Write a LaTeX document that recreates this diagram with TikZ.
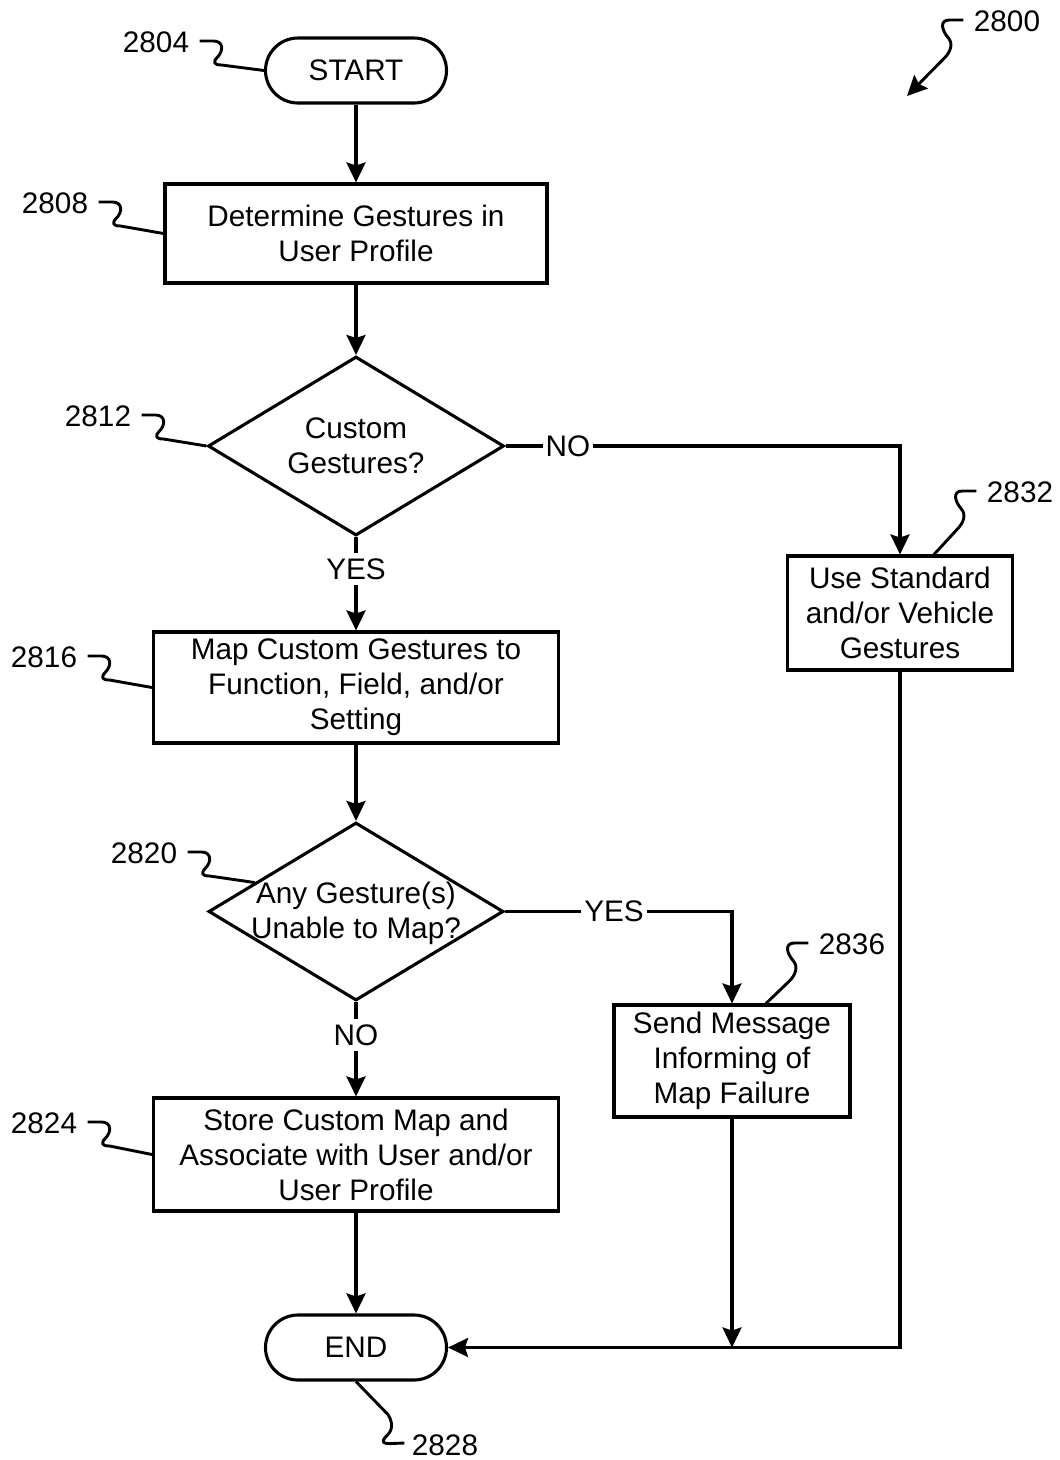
\documentclass[tikz,border=0pt]{standalone}
\usepackage{fontspec}
\setmainfont{Liberation Sans}
\usetikzlibrary{shapes.geometric,shapes.misc,arrows.meta,calc}
\newcommand{\leadL}[2]{\draw[lead] (#1) -- ($(#1)+(14,0)$) .. controls ($(#1)+(24,0)$) and ($(#1)+(24,10)$) .. ($(#1)+(18,16)$) .. controls ($(#1)+(13,21)$) and ($(#1)+(14,24)$) .. ($(#1)+(22,24)$) -- (#2);}
\newcommand{\leadR}[3][]{\draw[lead,#1] (#2) -- ($(#2)+(-14,0)$) .. controls ($(#2)+(-24,0)$) and ($(#2)+(-22,10)$) .. ($(#2)+(-15,18)$) .. controls ($(#2)+(-10,24)$) and ($(#2)+(-13,32)$) .. ($(#2)+(-19,38)$) -- (#3);}
\begin{document}
\begin{tikzpicture}[x=1pt,y=-1pt,
  line width=3.1pt,
  every node/.style={font=\fontsize{29.7}{35}\selectfont},
  box/.style={draw, rectangle, align=center, inner sep=0pt},
  term/.style={draw, rounded rectangle, minimum width=181pt, minimum height=65pt, inner sep=0pt},
  dia/.style={draw, diamond, inner sep=0pt, minimum width=296pt, minimum height=179pt},
  txt/.style={align=center, inner sep=0pt},
  lbl/.style={inner sep=0pt},
  flow/.style={-{Stealth[length=20pt,width=19pt,inset=3pt]}},
  lead/.style={line width=2.9pt, line join=round},
]
\useasboundingbox (0,0) rectangle (1060,1460);

% main nodes
\node[term] (start) at (356,70.5) {START};
\node[box, minimum width=382pt, minimum height=99pt] (b2808) at (356,233.5) {Determine Gestures in\\User Profile};
\node[dia] (q1) at (356,446) {};
\node[txt] (t1) at (356,446) {Custom\\Gestures?};
\node[box, minimum width=405pt, minimum height=111pt] (b2816) at (356,687.5) {Map Custom Gestures to\\Function, Field, and/or\\Setting};
\node[dia, minimum width=295pt, minimum height=178pt] (q2) at (356,911.5) {};
\node[txt] (t2) at (356,913) {Any Gesture(s)\\Unable to Map?};
\node[box, minimum width=405pt, minimum height=113pt] (b2824) at (356,1154.5) {Store Custom Map and\\Associate with User and/or\\User Profile};
\node[term] (end) at (356,1347.5) {END};
\node[box, minimum width=225pt, minimum height=114pt] (b2832) at (900,613) {Use Standard\\and/or Vehicle\\Gestures};
\node[box, minimum width=236pt, minimum height=112pt] (b2836) at (732,1061) {Send Message\\Informing of\\Map Failure};

% branch labels
\node[inner xsep=0pt, inner ysep=4pt] (yes1) at (356,569) {YES};
\node[inner xsep=1.5pt, inner ysep=0pt] (no1) at (568,446) {NO};
\node[inner xsep=0pt, inner ysep=4pt] (no2) at (356,1035) {NO};
\node[inner xsep=1.5pt, inner ysep=0pt] (yes2) at (614,911.5) {YES};

% connectors
\draw[flow] (start.south) -- (b2808.north);
\draw[flow] (b2808.south) -- (q1.north);
\draw (q1.south) -- (yes1.north);
\draw[flow] (yes1.south) -- (b2816.north);
\draw (q1.east) -- (no1.west);
\draw[flow] (no1.east) -| (b2832.north);
\draw[flow] (b2816.south) -- (q2.north);
\draw (q2.south) -- (no2.north);
\draw[flow] (no2.south) -- (b2824.north);
\draw (q2.east) -- (yes2.west);
\draw[flow] (yes2.east) -| (b2836.north);
\draw[flow] (b2824.south) -- (end.north);
\draw[flow] (b2832.south) |- (end.east);
\coordinate (join) at (b2836.south |- end.east);
\draw[flow] (b2836.south) -- (join);

% reference numerals
\node[lbl] (n2800) at (1007,21) {2800};
\node[lbl] (n2804) at (156,42) {2804};
\node[lbl] (n2808) at (55,203) {2808};
\node[lbl] (n2812) at (98,416) {2812};
\node[lbl] (n2816) at (44,657) {2816};
\node[lbl] (n2820) at (144,853) {2820};
\node[lbl] (n2824) at (44,1123) {2824};
\node[lbl] (n2828) at (445,1445) {2828};
\node[lbl] (n2832) at (1020,492) {2832};
\node[lbl] (n2836) at (852,944) {2836};

% leaders
\coordinate (s2804) at ($(n2804.east)+(9,-1)$);
\coordinate (s2808) at ($(n2808.east)+(9,-1)$);
\coordinate (s2812) at ($(n2812.east)+(9,-1)$);
\coordinate (s2816) at ($(n2816.east)+(9,-1)$);
\coordinate (s2820) at ($(n2820.east)+(9,-1)$);
\coordinate (s2824) at ($(n2824.east)+(9,-1)$);
\coordinate (s2832) at ($(n2832.west)+(-9,-1)$);
\coordinate (s2836) at ($(n2836.west)+(-9,-1)$);
\coordinate (s2800) at ($(n2800.west)+(-9,-1)$);
\coordinate (s2828) at ($(n2828.west)+(-6,-2)$);
\coordinate (e2820) at ($(q2.west)!0.32!(q2.north)$);
\coordinate (e2832) at ($(b2832.north)+(34,0)$);
\coordinate (e2836) at ($(b2836.north)+(34,0)$);
\coordinate (a2800) at (907,96);

\leadL{s2804}{start.west}
\leadL{s2808}{b2808.west}
\leadL{s2812}{q1.west}
\leadL{s2816}{b2816.west}
\leadL{s2820}{e2820}
\leadL{s2824}{b2824.west}
\leadR{s2832}{e2832}
\leadR{s2836}{e2836}
\leadR[flow]{s2800}{a2800}
\draw[lead] (end.south) -- ($(end.south)+(32,33)$) .. controls ($(end.south)+(40,46)$) and ($(end.south)+(33,52)$) .. ($(end.south)+(29,56)$) .. controls ($(end.south)+(25,61)$) and ($(end.south)+(28,62)$) .. ($(end.south)+(34,62)$) -- (s2828);
\end{tikzpicture}
\end{document}
